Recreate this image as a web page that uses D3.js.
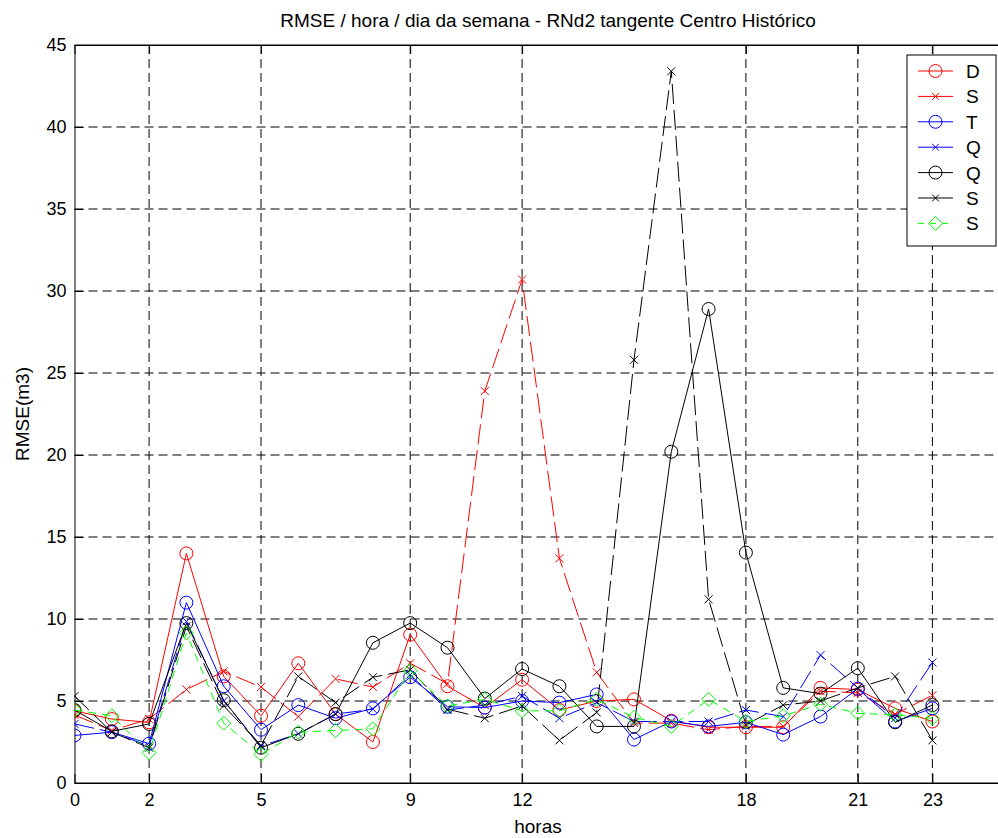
<!DOCTYPE html>
<html>
<head>
<meta charset="utf-8">
<script src="https://cdn.jsdelivr.net/npm/d3@7"></script>
<style>
  body { margin: 0; background: #fff; }
  text { font-family: "Liberation Sans", Arial, sans-serif; }
</style>
</head>
<body>
<svg width="998" height="838"></svg>
<script>
const svg = d3.select("svg");

// horas 0..23
const horas = d3.range(24);
const xTicks = [0, 2, 5, 9, 12, 18, 21, 23];
const yTicks = [0, 5, 10, 15, 20, 25, 30, 35, 40, 45];

// RMSE por dia da semana
const dom = [4.4, 3.9, 3.7, 14.0, 6.5, 4.1, 7.3, 4.2, 2.5, 9.05, 5.9, 4.6, 6.3, 4.45, 5.0, 5.1, 3.8, 3.4, 3.4, 3.4, 5.8, 5.7, 4.55, 3.75];
const seg = [4.15, 3.2, 3.9, 5.7, 6.8, 5.85, 4.05, 6.35, 5.85, 7.3, 6.05, 23.9, 30.7, 13.7, 6.75, 3.65, 3.65, 3.25, 3.45, 3.45, 5.6, 5.5, 4.2, 5.35];
const ter = [2.9, 3.1, 2.4, 11.0, 5.9, 3.25, 4.75, 3.95, 4.55, 6.45, 4.65, 4.6, 5.0, 4.9, 5.4, 2.65, 3.75, 3.45, 3.7, 2.95, 4.05, 5.75, 3.75, 4.55];
const qua = [3.6, 3.1, 2.25, 9.85, 5.0, 2.25, 3.0, 4.2, 4.5, 6.6, 4.45, 4.75, 5.3, 3.95, 4.9, 3.75, 3.75, 3.75, 4.45, 4.05, 7.8, 5.8, 3.95, 7.35];
const qui = [4.45, 3.15, 3.6, 9.75, 5.05, 2.15, 3.0, 4.2, 8.55, 9.75, 8.25, 5.15, 6.95, 5.9, 3.45, 3.45, 20.2, 28.9, 14.05, 5.8, 5.45, 7.0, 3.7, 4.75];
const sex = [5.3, 3.1, 2.15, 9.55, 4.7, 2.3, 6.5, 4.9, 6.45, 6.9, 4.5, 3.95, 4.7, 2.6, 4.3, 25.8, 43.4, 11.2, 3.55, 4.75, 5.0, 5.8, 6.5, 2.6];
const sab = [4.45, 4.1, 1.85, 9.15, 3.65, 1.75, 3.1, 3.2, 3.3, 6.85, 4.7, 5.1, 4.4, 4.4, 5.1, 4.0, 3.45, 5.1, 3.75, 4.1, 4.8, 4.25, 4.15, 3.95];

const series = [
  { name: "D", values: dom, color: "#ff0000", marker: "o", dash: null },
  { name: "S", values: seg, color: "#ff0000", marker: "x", dash: "20,6" },
  { name: "T", values: ter, color: "#0000ff", marker: "o", dash: null },
  { name: "Q", values: qua, color: "#0000ff", marker: "x", dash: "20,6" },
  { name: "Q", values: qui, color: "#000000", marker: "o", dash: null },
  { name: "S", values: sex, color: "#000000", marker: "x", dash: "20,6" },
  { name: "S", values: sab, color: "#00ff00", marker: "d", dash: "8,6" }
];

const pLeft = 74.5, pTop = 45, pRight = 1007, pBottom = 783;

const x = d3.scaleLinear().domain([0, 25]).range([pLeft, pRight]);
const y = d3.scaleLinear().domain([0, 45]).range([pBottom, pTop]);

svg.append("clipPath").attr("id", "plotclip")
  .append("rect").attr("x", pLeft).attr("y", pTop)
  .attr("width", pRight - pLeft).attr("height", pBottom - pTop);

// grid
const grid = svg.append("g");
grid.selectAll(".vg").data(xTicks.filter(d => d > 0)).enter().append("line")
  .attr("x1", d => x(d)).attr("x2", d => x(d))
  .attr("y1", pTop).attr("y2", pBottom)
  .attr("stroke", "#000").attr("stroke-width", 1)
  .attr("stroke-dasharray", "9,5");
grid.selectAll(".hg").data(yTicks.filter(d => d > 0 && d < 45)).enter().append("line")
  .attr("x1", pLeft).attr("x2", pRight)
  .attr("y1", d => y(d)).attr("y2", d => y(d))
  .attr("stroke", "#000").attr("stroke-width", 1)
  .attr("stroke-dasharray", "9,5");

// axes (ticks inside, box)
const tickLen = 9;
svg.append("g").attr("transform", `translate(0,${pBottom})`)
  .call(d3.axisBottom(x).tickValues(xTicks).tickSize(-tickLen).tickPadding(10).tickSizeOuter(0))
  .call(g => g.selectAll("text").attr("font-size", 18).attr("fill", "#000"));
svg.append("g").attr("transform", `translate(0,${pTop})`)
  .call(d3.axisTop(x).tickValues(xTicks).tickSize(-tickLen).tickFormat("").tickSizeOuter(0));
svg.append("g").attr("transform", `translate(${pLeft},0)`)
  .call(d3.axisLeft(y).tickValues(yTicks).tickSize(-tickLen).tickPadding(8).tickSizeOuter(0))
  .call(g => g.selectAll("text").attr("font-size", 18).attr("fill", "#000"));
svg.selectAll(".domain").attr("stroke", "#000");
svg.selectAll(".tick line").attr("stroke", "#000");

// series
const line = d3.line().x((d, i) => x(horas[i])).y(d => y(d));
const plot = svg.append("g").attr("clip-path", "url(#plotclip)");

function drawMarker(g, type, cx, cy, color, s) {
  if (type === "o") {
    g.append("circle").attr("cx", cx).attr("cy", cy).attr("r", 6.5 * s)
      .attr("fill", "none").attr("stroke", color).attr("stroke-width", 1);
  } else if (type === "x") {
    const r = 4 * s;
    g.append("path")
      .attr("d", `M${cx - r},${cy - r}L${cx + r},${cy + r}M${cx - r},${cy + r}L${cx + r},${cy - r}`)
      .attr("stroke", color).attr("stroke-width", 1).attr("fill", "none");
  } else {
    const r = 7 * s;
    g.append("path")
      .attr("d", `M${cx},${cy - r}L${cx + r},${cy}L${cx},${cy + r}L${cx - r},${cy}Z`)
      .attr("stroke", color).attr("stroke-width", 1).attr("fill", "none");
  }
}

series.forEach(s => {
  plot.append("path").datum(s.values)
    .attr("d", line)
    .attr("fill", "none")
    .attr("stroke", s.color)
    .attr("stroke-width", 1)
    .attr("stroke-dasharray", s.dash);
  const mg = plot.append("g");
  s.values.forEach((v, i) => drawMarker(mg, s.marker, x(horas[i]), y(v), s.color, 1));
});

// box lines
svg.append("line").attr("x1", pLeft).attr("x2", pRight).attr("y1", pTop).attr("y2", pTop).attr("stroke", "#000");
svg.append("line").attr("x1", pLeft).attr("x2", pRight).attr("y1", pBottom).attr("y2", pBottom).attr("stroke", "#000");

// legend
const lg = svg.append("g");
lg.append("rect").attr("x", 907).attr("y", 55).attr("width", 89).attr("height", 191)
  .attr("fill", "#fff").attr("stroke", "#000");
series.forEach((s, i) => {
  const ly = 71 + i * 25.4;
  lg.append("line").attr("x1", 918).attr("x2", 953).attr("y1", ly).attr("y2", ly)
    .attr("stroke", s.color).attr("stroke-width", 1)
    .attr("stroke-dasharray", s.marker === "d" ? "6,6" : null);
  drawMarker(lg, s.marker, 935.5, ly, s.color, s.marker === "x" ? 0.85 : 1);
  lg.append("text").attr("x", 966).attr("y", ly + 7).attr("font-size", 19).text(s.name);
});

// labels
svg.append("text").attr("x", 548).attr("y", 27).attr("text-anchor", "middle")
  .attr("font-size", 19).text("RMSE / hora / dia da semana - RNd2 tangente Centro Histórico");
svg.append("text").attr("x", 538).attr("y", 833).attr("text-anchor", "middle")
  .attr("font-size", 19).text("horas");
svg.append("text").attr("transform", `translate(29,${(pTop + pBottom) / 2}) rotate(-90)`)
  .attr("text-anchor", "middle").attr("font-size", 19).text("RMSE(m3)");
</script>
</body>
</html>
